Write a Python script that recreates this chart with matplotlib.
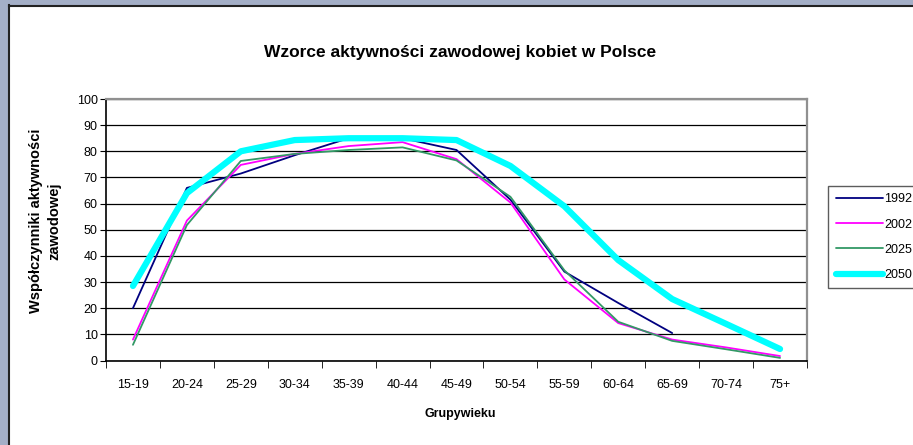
import numpy as np
import matplotlib
matplotlib.use("Agg")
import matplotlib.pyplot as plt
from matplotlib.patches import Rectangle
from matplotlib.lines import Line2D

plt.rcParams['font.family'] = ['Liberation Sans', 'DejaVu Sans']

groups = ["15-19", "20-24", "25-29", "30-34", "35-39", "40-44", "45-49",
          "50-54", "55-59", "60-64", "65-69", "70-74", "75+"]

# wspolczynniki aktywnosci
y1992 = [20, 66, 71.5, 78.5, 85, 85, 80.5, 61.5, 34, 22, 10.5]
y2002 = [8, 53.5, 74.8, 79, 82, 83.5, 77, 60.4, 31, 14.3, 8, 5, 1.7]
y2025 = [6, 51.8, 76.3, 79, 80.5, 81.5, 76.5, 62.6, 34.5, 14.8, 7.5, 4.3, 1]
y2050 = [28.5, 64, 80, 84.3, 85, 85, 84.3, 74.4, 59, 38.4, 23.5, 14, 4.4]

series = [("1992", y1992, "#000080", 1.3),
          ("2002", y2002, "#ff00ff", 1.3),
          ("2025", y2025, "#339966", 1.3),
          ("2050", y2050, "#00ffff", 4.5)]

fig = plt.figure(figsize=(9.13, 4.45), dpi=100)
fig.patch.set_facecolor("white")

# ramka okna (lewy i gorny pasek)
fig.patches.append(Rectangle((0, 0), 8 / 913, 1, transform=fig.transFigure,
                             facecolor="#a4afc7", edgecolor="none", zorder=0))
fig.patches.append(Rectangle((0, 1 - 5 / 445), 1, 5 / 445, transform=fig.transFigure,
                             facecolor="#a4afc7", edgecolor="none", zorder=0))
fig.lines.append(Line2D([8.5 / 913, 8.5 / 913], [0, 1 - 5 / 445], transform=fig.transFigure,
                        color="#222222", lw=1.5))
fig.lines.append(Line2D([8.5 / 913, 1], [1 - 5.5 / 445, 1 - 5.5 / 445], transform=fig.transFigure,
                        color="#222222", lw=1.5))

ax = fig.add_axes([106 / 913, 1 - 360.5 / 445, 701 / 913, 261.5 / 445])

x = np.arange(len(groups))
for name, vals, col, lw in series:
    ax.plot(x[:len(vals)], vals, color=col, lw=lw, label=name,
            solid_capstyle="round", solid_joinstyle="round")

ax.set_xlim(-0.5, len(groups) - 0.5)
ax.set_ylim(0, 100)
ax.set_yticks(range(0, 101, 10))
ax.yaxis.grid(True, color="black", lw=0.9)
ax.set_axisbelow(True)

ax.set_xticks(x)
ax.set_xticklabels(groups, fontsize=9)
ax.set_xticks(np.arange(-0.5, len(groups)), minor=True)
ax.tick_params(axis="x", which="major", length=0, pad=13)
ax.tick_params(axis="x", which="minor", length=5, direction="out", color="black")
ax.tick_params(axis="y", length=4, direction="out", labelsize=9, pad=2)

for s in ["left", "bottom"]:
    ax.spines[s].set_color("black")
    ax.spines[s].set_linewidth(1.2)
for s in ["top", "right"]:
    ax.spines[s].set_color("#909090")
    ax.spines[s].set_linewidth(1.6)

fig.text(460 / 913, 1 - 52 / 445, "Wzorce aktywności zawodowej kobiet w Polsce",
         ha="center", va="center", fontsize=12.5, fontweight="bold")
fig.text(460 / 913, 1 - 414 / 445, "Grupywieku", ha="center", va="center",
         fontsize=9, fontweight="bold")
fig.text(45 / 913, 1 - 221 / 445, "Współczynniki aktywności\nzawodowej",
         ha="center", va="center", rotation=90, fontsize=10.5, fontweight="bold",
         linespacing=1.45)

leg = ax.legend(loc="upper left", bbox_to_anchor=(828 / 913, 1 - 186 / 445),
                bbox_transform=fig.transFigure, fontsize=9, frameon=True,
                fancybox=False, edgecolor="#333333", handlelength=3.8,
                handletextpad=0.1, labelspacing=1.05, borderaxespad=0,
                borderpad=0.6)
leg.get_frame().set_linewidth(1.0)

fig.savefig("out.png", dpi=100, facecolor=fig.get_facecolor())
